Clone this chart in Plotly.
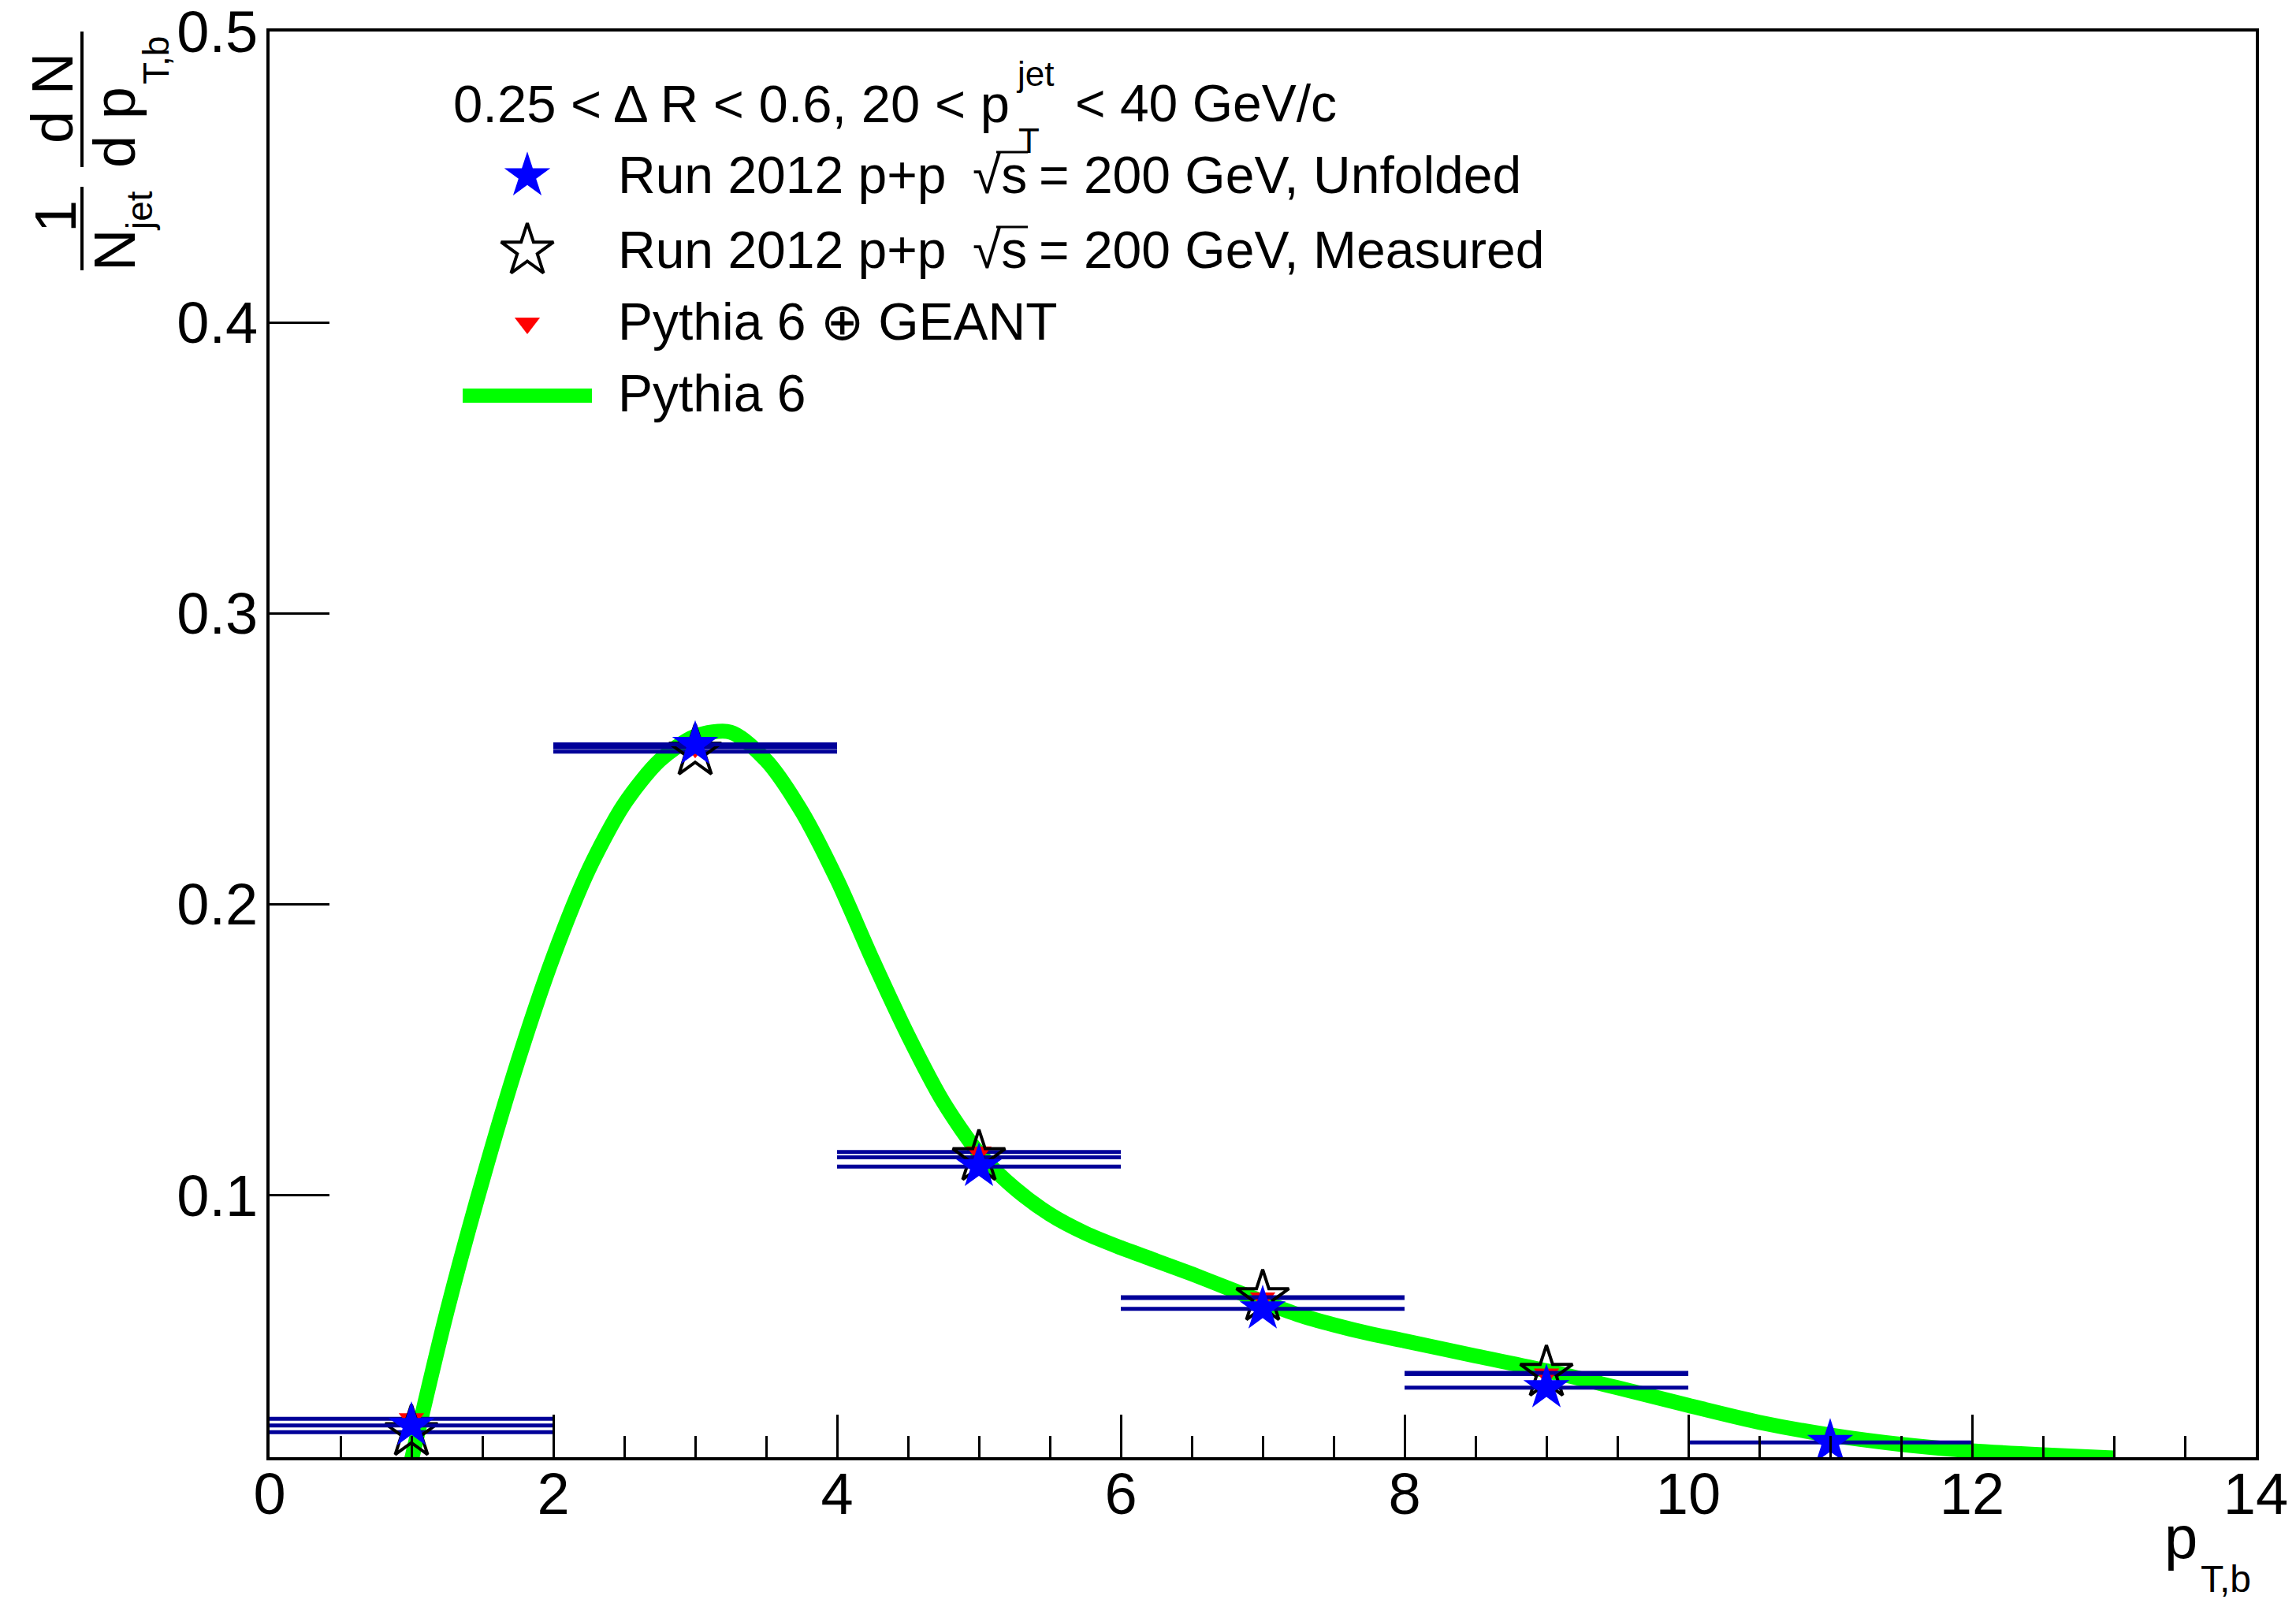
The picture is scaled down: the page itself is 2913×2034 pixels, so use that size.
import plotly.graph_objects as go

# ---- data -------------------------------------------------------------
# b-hadron pT bins (centre, half width)
pt_bins = [1, 3, 5, 7, 9, 11]
bin_half_width = [1, 1, 1, 1, 1, 1]

# Run 2012 p+p, unfolded
unfolded = [0.0209, 0.2550, 0.1099, 0.0610, 0.0339, 0.0151]
# Run 2012 p+p, measured (first five bins)
measured = [0.0186, 0.2525, 0.1131, 0.0650, 0.0390]
# Pythia 6 + GEANT detector simulation (first five bins)
pythia_geant = [0.0232, 0.2540, 0.1149, 0.0647, 0.0386]

# Pythia 6 generator-level curve
pythia_pt = [1.0, 1.25, 1.5, 1.75, 2.0, 2.25, 2.5, 2.75, 3.0, 3.25, 3.5,
             3.75, 4.0, 4.25, 4.5, 4.75, 5.0, 5.25, 5.5, 5.75, 6.0, 6.25, 6.5,
             6.75, 7.0, 7.25, 7.5, 7.75, 8.0, 8.5, 9.0, 9.5, 10.0, 10.5, 11.0,
             11.5, 12.0, 12.5, 13.0]
pythia_val = [0.009, 0.060, 0.105, 0.146, 0.182, 0.212, 0.2345, 0.2495, 0.2578,
              0.2592, 0.2495, 0.232, 0.2085, 0.181, 0.155, 0.132, 0.1145,
              0.1025, 0.0935, 0.0870, 0.0820, 0.0775, 0.0730, 0.0682, 0.0635,
              0.0590, 0.0555, 0.0525, 0.0500, 0.0448, 0.0397, 0.0339, 0.0278,
              0.0220, 0.0176, 0.0144, 0.0122, 0.0108, 0.0097]

x_range = [0, 14]
y_range = [0.01, 0.50001]
y_ticks = [0.1, 0.2, 0.3, 0.4, 0.5]
y_tick_text = ["0.1", "0.2", "0.3", "0.4", "0.5"]

# ---- canvas geometry (pixels) -----------------------------------------
W, H = 2913, 2034
L, R, T, B = 342, 2862, 40, 1849
FONT = "Liberation Sans, Arial, Helvetica, sans-serif"

NAVY = "#000099"
BLUE = "#0000ff"
RED = "#ff0000"
GREEN = "#00ff00"


def px(x):
    return (x - L) / (R - L)


def py(y):
    return (B - y) / (B - T)


def text(s, x, y, size, angle=0, xanchor="center"):
    return dict(text=s, x=px(x), y=py(y), xref="paper", yref="paper",
                showarrow=False, textangle=angle, xanchor=xanchor,
                yanchor="middle", font=dict(size=size, color="black", family=FONT))


def seg(x0, y0, x1, y1, color="black", width=4):
    return dict(type="line", xref="paper", yref="paper",
                x0=px(x0), y0=py(y0), x1=px(x1), y1=py(y1),
                line=dict(color=color, width=width))


fig = go.Figure()

# Pythia 6 curve
fig.add_trace(go.Scatter(
    x=pythia_pt, y=pythia_val, mode="lines",
    line=dict(color=GREEN, width=19, shape="spline", smoothing=0.8),
    hoverinfo="skip"))

xerr = dict(type="data", array=bin_half_width, color=NAVY, thickness=5, width=0)

n_meas = len(measured)
fig.add_trace(go.Scatter(
    x=pt_bins[:n_meas], y=pythia_geant, mode="markers",
    error_x=dict(xerr, array=bin_half_width[:n_meas]),
    marker=dict(symbol="triangle-down", color=RED, size=28, line=dict(width=0))))

fig.add_trace(go.Scatter(
    x=pt_bins[:n_meas], y=measured, mode="markers",
    error_x=dict(xerr, array=bin_half_width[:n_meas]),
    marker=dict(symbol="star-open", color="black", size=50,
                line=dict(width=4, color="black"))))

fig.add_trace(go.Scatter(
    x=pt_bins, y=unfolded, mode="markers",
    error_x=xerr,
    marker=dict(symbol="star", color=BLUE, size=44, line=dict(width=0))))

# legend keys on a pixel-based overlay axis
key_x = 669
fig.add_trace(go.Scatter(x=[key_x], y=[223], xaxis="x2", yaxis="y2", mode="markers",
                         marker=dict(symbol="star", color=BLUE, size=44, line=dict(width=0))))
fig.add_trace(go.Scatter(x=[key_x], y=[318], xaxis="x2", yaxis="y2", mode="markers",
                         marker=dict(symbol="star-open", color="black", size=50,
                                     line=dict(width=4, color="black"))))
fig.add_trace(go.Scatter(x=[key_x], y=[410], xaxis="x2", yaxis="y2", mode="markers",
                         marker=dict(symbol="triangle-down", color=RED, size=28,
                                     line=dict(width=0))))

annotations = []
shapes = []

# legend header
LF = 66
annotations += [
    text("0.25 < Δ R < 0.6, 20 < p", 573, 131, 67, xanchor="left"),
    text("jet", 1287, 94, 44, xanchor="left"),
    text("T", 1290, 179, 44, xanchor="left"),
    text("< 40 GeV/c", 1362, 131, LF, xanchor="left"),
]

# legend entries
for yc, tail in [(222, "= 200 GeV, Unfolded"), (317, "= 200 GeV, Measured")]:
    annotations += [
        text("Run 2012 p+p", 782, yc, LF, xanchor="left"),
        text("√s", 1232, yc, LF, xanchor="left"),
        text(tail, 1316, yc, LF, xanchor="left"),
    ]
    shapes.append(seg(1264, yc - 29, 1304, yc - 29, width=3))

annotations += [
    text("Pythia 6 ⊕ GEANT", 782, 408, LF, xanchor="left"),
    text("Pythia 6", 782, 499, LF, xanchor="left"),
]
shapes.append(seg(587, 502, 751, 502, color=GREEN, width=18))

# y-axis title: (1/N_jet) dN/dp_T,b, rotated
YF = 74
annotations += [
    text("d N", 66, 125, YF, angle=-90),
    text("d p", 145, 162, YF, angle=-90),
    text("T,b", 198, 77, 46, angle=-90),
    text("1", 71, 275, YF, angle=-90),
    text("N", 146, 318, YF, angle=-90),
    text("jet", 177, 268, 46, angle=-90),
]
shapes += [seg(104, 40, 104, 212), seg(104, 237, 104, 343)]

# x-axis title
annotations += [
    text("p", 2767, 1950, 76),
    text("T,b", 2824, 2003, 48),
]

axis_common = dict(showgrid=False, zeroline=False, showline=True, linecolor="black",
                   linewidth=4, mirror=True, ticks="inside", tickcolor="black",
                   tickwidth=3, ticklabeloverflow="allow", automargin=False,
                   tickfont=dict(size=74, color="black", family=FONT))

fig.update_layout(
    width=W, height=H,
    margin=dict(l=L, r=W - R, t=T, b=H - B, autoexpand=False),
    paper_bgcolor="white", plot_bgcolor="white",
    showlegend=False,
    xaxis=dict(axis_common, range=x_range, dtick=2, tick0=0, ticklen=54,
               ticklabelstandoff=-21,
               minor=dict(ticks="inside", dtick=0.5, ticklen=27, tickwidth=3,
                          tickcolor="black")),
    yaxis=dict(axis_common, range=y_range, tickvals=y_ticks, ticktext=y_tick_text,
               ticklen=76, ticklabelstandoff=-4),
    xaxis2=dict(overlaying="x", range=[L, R], visible=False),
    yaxis2=dict(overlaying="y", range=[B, T], visible=False),
    annotations=annotations,
    shapes=shapes,
)

fig.write_html("out.html")
